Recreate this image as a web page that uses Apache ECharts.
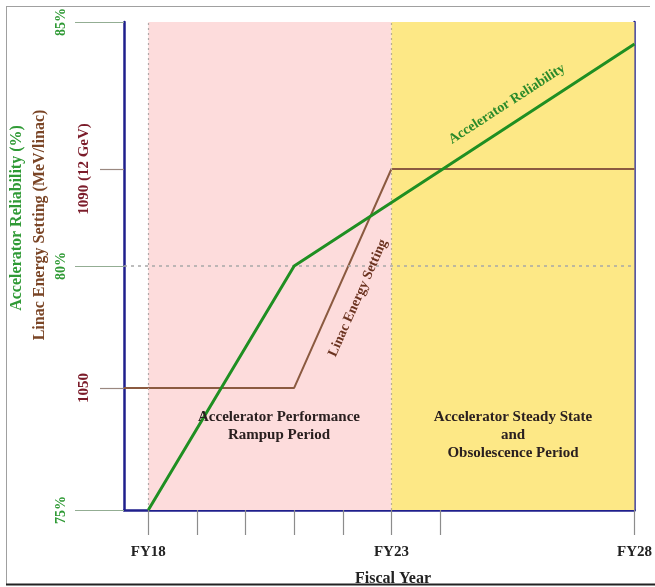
<!DOCTYPE html>
<html>
<head>
<meta charset="utf-8">
<script src="https://cdn.jsdelivr.net/npm/echarts@6/dist/echarts.min.js"></script>
<style>
html,body{margin:0;padding:0;background:#fff;}
#chart{width:655px;height:587px;}
</style>
</head>
<body>
<div id="chart"></div>
<script>
// ---- data ----
const fiscalYears = [18, 19, 20, 21, 22, 23, 24, 28];   // tick positions (FY)
const labeledYears = [18, 23, 28];                        // labelled ticks
const reliabilityTicks = [75, 80, 85];                    // %
const energyTicks = [1050, 1090];                         // MeV/linac
const reliabilityYears = [18, 21, 28];
const reliabilityValues = [75, 80, 84.55];
const energyYears = [17.5, 21, 23, 28];
const energyValues = [1050, 1050, 1090, 1090];
const rampupPeriod = [18, 23];
const steadyPeriod = [23, 28];

const serif = '"Liberation Serif", "DejaVu Serif", serif';
const blue = '#1f1f8c';
const green = '#1f8f22';
const brown = '#8b5a40';

const chart = echarts.init(document.getElementById('chart'), null, {renderer: 'canvas'});

const option = {
  backgroundColor: '#ffffff',
  animation: false,
  grid: {left: 124, right: 18, top: 22, bottom: 77, containLabel: false},
  xAxis: {
    type: 'value', min: 17.5, max: 28,
    axisLine: {show: true, onZero: false, lineStyle: {color: blue, width: 2.5}},
    axisTick: {show: true, customValues: fiscalYears, length: 25, lineStyle: {color: '#8c8c8c', width: 1.2}},
    axisLabel: {show: true, customValues: labeledYears, margin: 35,
      formatter: v => 'FY' + v,
      fontFamily: serif, fontWeight: 'bold', fontSize: 15, color: '#222'},
    splitLine: {show: false}
  },
  yAxis: [
    {
      type: 'value', min: reliabilityTicks[0], max: reliabilityTicks[2], interval: 5, position: 'left',
      axisLine: {show: true, onZero: false, lineStyle: {color: blue, width: 2.5}},
      axisTick: {show: true, length: 49, lineStyle: {color: '#93ad93', width: 1.2}},
      axisLabel: {show: true, rotate: 90, margin: 56, formatter: v => v + '%',
        fontFamily: serif, fontWeight: 'bold', fontSize: 14, color: '#2f9a35'},
      splitLine: {show: false}
    },
    {
      type: 'value', min: 1027.7, max: 1116.85, position: 'left',
      axisLine: {show: false},
      axisTick: {show: true, customValues: energyTicks, length: 24, lineStyle: {color: '#9a8880', width: 1.2}},
      axisLabel: {show: true, customValues: energyTicks, rotate: 90, margin: 32,
        formatter: v => v === 1090 ? '1090 (12 GeV)' : String(v),
        fontFamily: serif, fontWeight: 'bold', fontSize: 15, color: '#7b1c2a'},
      splitLine: {show: false}
    },
    {
      type: 'value', min: reliabilityTicks[0], max: reliabilityTicks[2], position: 'right',
      axisLine: {show: true, onZero: false, lineStyle: {color: blue, width: 2.5}},
      axisTick: {show: false}, axisLabel: {show: false}, splitLine: {show: false}
    }
  ],
  series: [
    {
      name: 'Accelerator Reliability', type: 'line', yAxisIndex: 0, z: 5,
      data: reliabilityYears.map((x, i) => [x, reliabilityValues[i]]),
      symbol: 'none', lineStyle: {color: green, width: 3},
      markArea: {
        silent: true,
        data: [
          [{xAxis: rampupPeriod[0], itemStyle: {color: '#fddcdc'}}, {xAxis: rampupPeriod[1]}],
          [{xAxis: steadyPeriod[0], itemStyle: {color: '#fde886'}}, {xAxis: steadyPeriod[1]}]
        ]
      },
      markLine: {
        silent: true, symbol: 'none', label: {show: false},
        data: [
          {xAxis: rampupPeriod[0], lineStyle: {color: '#b0a8a8', type: [2, 3], width: 1.2}},
          {xAxis: steadyPeriod[0], lineStyle: {color: '#b8b090', type: [2, 3], width: 1.2}},
          {yAxis: 80, lineStyle: {color: '#a8a8a8', type: [3, 4], width: 1.5}}
        ]
      }
    },
    {
      name: 'Linac Energy Setting', type: 'line', yAxisIndex: 1, z: 4,
      data: energyYears.map((x, i) => [x, energyValues[i]]),
      symbol: 'none', lineStyle: {color: brown, width: 2}
    }
  ],
  graphic: [
    {type: 'text', x: 17, y: 218, rotation: Math.PI / 2,
      style: {text: 'Accelerator Reliability (%)', fill: '#2f9a35', font: 'bold 16px ' + serif, textAlign: 'center', textVerticalAlign: 'middle'}},
    {type: 'text', x: 40, y: 225, rotation: Math.PI / 2,
      style: {text: 'Linac Energy Setting (MeV/linac)', fill: '#7a4526', font: 'bold 16px ' + serif, textAlign: 'center', textVerticalAlign: 'middle'}},
    {type: 'text', x: 507, y: 104, rotation: 33 * Math.PI / 180, z: 10,
      style: {text: 'Accelerator Reliability', fill: '#2a8a2a', font: 'bold 14px ' + serif, textAlign: 'center', textVerticalAlign: 'middle'}},
    {type: 'text', x: 358, y: 298, rotation: 66 * Math.PI / 180, z: 10,
      style: {text: 'Linac Energy Setting', fill: '#6b3320', font: 'bold 14px ' + serif, textAlign: 'center', textVerticalAlign: 'middle'}},
    {type: 'text', x: 279, y: 426, z: 10,
      style: {text: 'Accelerator Performance\nRampup Period', fill: '#2a2020', font: 'bold 15px ' + serif, lineHeight: 18, textAlign: 'center', textVerticalAlign: 'middle'}},
    {type: 'text', x: 513, y: 435, z: 10,
      style: {text: 'Accelerator Steady State\nand\nObsolescence Period', fill: '#2a2020', font: 'bold 15px ' + serif, lineHeight: 18, textAlign: 'center', textVerticalAlign: 'middle'}},
    {type: 'text', x: 393, y: 571, z: 10,
      style: {text: 'Fiscal Year', fill: '#222', font: 'bold 16px ' + serif, textAlign: 'center', textVerticalAlign: 'top'}},
    {type: 'rect', shape: {x: 0, y: 585, width: 655, height: 2}, style: {fill: '#fff'}, z: 20},
    {type: 'line', shape: {x1: 6, y1: 6.5, x2: 650, y2: 6.5}, style: {stroke: '#a0a0a0', lineWidth: 1}, z: 21},
    {type: 'line', shape: {x1: 6.5, y1: 6, x2: 6.5, y2: 584}, style: {stroke: '#a0a0a0', lineWidth: 1}, z: 21},
    {type: 'line', shape: {x1: 6, y1: 584.5, x2: 655, y2: 584.5}, style: {stroke: '#222', lineWidth: 2}, z: 21}
  ]
};
chart.setOption(option);
</script>
</body>
</html>
